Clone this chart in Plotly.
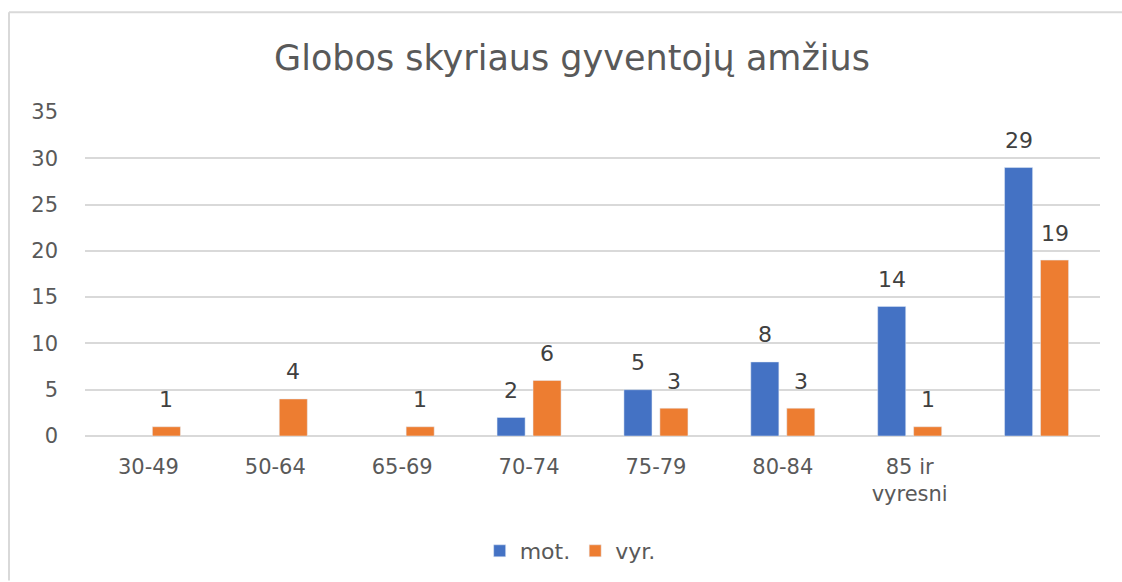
import plotly.graph_objects as go

categories = ["30-49", "50-64", "65-69", "70-74", "75-79", "80-84", "85 ir<br>vyresni", ""]
mot = [None, None, None, 2, 5, 8, 14, 29]
vyr = [1, 4, 1, 6, 3, 3, 1, 19]
y_ticks = [0, 5, 10, 15, 20, 25, 30, 35]
title_text = "Globos skyriaus gyventojų amžius"

BLUE = "#4472C4"
ORANGE = "#ED7D31"
GRID = "#D9D9D9"
FONT = "DejaVu Sans"

W, H = 1122, 582
ML, MR, MT, MB = 85, 22, 112, 145
plot_w = W - ML - MR
plot_h = H - MT - MB

xs = list(range(len(categories)))

fig = go.Figure()
fig.add_trace(go.Bar(x=xs, y=mot, name="mot.", marker_color=BLUE))
fig.add_trace(go.Bar(x=xs, y=vyr, name="vyr.", marker_color=ORANGE))

bargap = 0.433
slot_px = plot_w / len(categories) * (1 - bargap) / 2
annotations = []
for series, sign in ((mot, -1), (vyr, 1)):
    for xi, v in zip(xs, series):
        if v is None:
            continue
        annotations.append(dict(
            x=xi, y=v, xref="x", yref="y", text=str(v), showarrow=False,
            xshift=sign * slot_px / 2, yshift=27, yanchor="middle",
            font=dict(family=FONT, size=22, color="#404040"),
        ))

fig.update_layout(
    width=W, height=H,
    margin=dict(l=ML, r=MR, t=MT, b=MB),
    paper_bgcolor="white", plot_bgcolor="white",
    barmode="group", bargap=bargap, bargroupgap=0.22,
    title=dict(text=title_text, x=572 / W, xref="container", xanchor="center",
               y=1 - 58 / H, yref="container", yanchor="middle",
               font=dict(family=FONT, size=35, color="#595959")),
    font=dict(family=FONT, color="#595959"),
    showlegend=True,
    legend=dict(orientation="h", x=0.478, xanchor="center", y=(437 - 551) / plot_h,
                yanchor="middle", font=dict(family=FONT, size=22, color="#595959"),
                itemwidth=30, traceorder="normal"),
    annotations=annotations,
    shapes=[
        dict(type="line", xref="paper", yref="paper",
             x0=(9 - ML) / plot_w, x1=(9 - ML) / plot_w,
             y0=1 + (MT - 12) / plot_h, y1=(MT + plot_h - H) / plot_h,
             line=dict(color=GRID, width=2)),
        dict(type="line", xref="paper", yref="paper",
             x0=(9 - ML) / plot_w, x1=(W - ML) / plot_w,
             y0=1 + (MT - 12) / plot_h, y1=1 + (MT - 12) / plot_h,
             line=dict(color=GRID, width=2)),
    ],
)

fig.update_xaxes(
    tickmode="array", tickvals=xs, ticktext=categories,
    range=[-0.5, len(categories) - 0.5],
    showgrid=False, showline=False, zeroline=False,
    ticks="", ticklabelstandoff=16,
    tickfont=dict(family=FONT, size=21, color="#595959"),
)
fig.update_yaxes(
    range=[0, 35], tickmode="array", tickvals=y_ticks,
    showgrid=True, gridcolor=GRID, gridwidth=2,
    zeroline=True, zerolinecolor=GRID, zerolinewidth=2,
    showline=False, ticks="", ticklabelstandoff=26,
    tickfont=dict(family=FONT, size=21, color="#595959"),
)

fig.write_html(
    "out.html",
    config={"displayModeBar": False},
    post_script="document.body.style.margin='0';document.documentElement.style.overflow='hidden';document.body.style.overflow='hidden';",
)
